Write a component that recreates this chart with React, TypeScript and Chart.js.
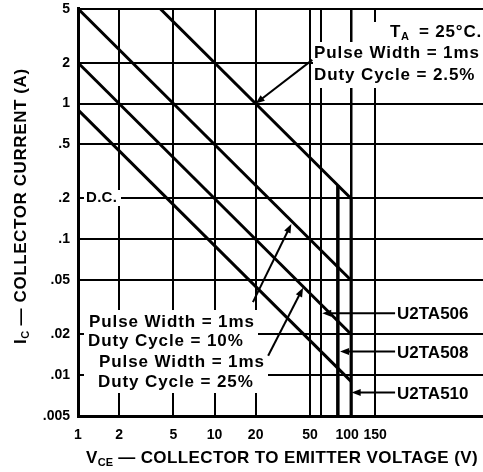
import React, { useEffect, useRef } from "react";
import { Chart, registerables } from "chart.js";

Chart.register(...registerables);

// ---- axis ticks ----
const xTickValues = [1, 2, 5, 10, 20, 50, 60, 80, 100, 150];
const xTickLabels = ["1", "2", "5", "10", "20", "50", "", "", "100  ", "150"];
const yTickValues = [0.005, 0.01, 0.02, 0.05, 0.1, 0.2, 0.5, 1, 2, 5];
const yTickLabels = [".005", ".01", ".02", ".05", ".1", ".2", ".5", "1", "2", "5"];

// ---- safe operating area lines (V, A) ----
const duty2_5V = [4, 100];
const duty2_5I = [5, 0.2];
const duty10V = [1, 100];
const duty10I = [5, 0.05];
const duty25V = [1, 100];
const duty25I = [2, 0.02];
const dcV = [1, 100];
const dcI = [0.9, 0.009];

// ---- device voltage limits ----
const limit80V = [80, 80];
const limit80I = [0.25, 0.005];
const limit100V = [100, 100];
const limit100I = [0.2, 0.005];

// ---- annotation arrows (tail -> tip, in V / A) ----
const arrowTailV = [52, 19.1, 24.7, 210, 210, 210];
const arrowTailI = [2.1, 0.0345, 0.0139, 0.0286, 0.0149, 0.00744];
const arrowTipV = [20, 36.5, 44.5, 61.5, 83, 101];
const arrowTipI = [1.0, 0.13, 0.044, 0.0286, 0.0149, 0.00744];

const FONT = '"Liberation Sans", Arial, Helvetica, sans-serif';

export default function App() {
  const ref = useRef<HTMLCanvasElement>(null);

  useEffect(() => {
    document.body.style.margin = "0";
    const canvas = ref.current!;

    const pts = (V: number[], I: number[]) => V.map((v, i) => ({ x: v, y: I[i] }));

    const text = (
      ctx: CanvasRenderingContext2D,
      s: string,
      x: number,
      y: number,
      size: number,
      spacing = 0,
      align: CanvasTextAlign = "left"
    ) => {
      ctx.font = `bold ${size}px ${FONT}`;
      (ctx as any).letterSpacing = `${spacing}px`;
      ctx.textAlign = align;
      ctx.textBaseline = "middle";
      ctx.fillText(s, x, y);
      const w = ctx.measureText(s).width;
      return w;
    };

    // white masks behind labels (pixel rectangles: x1, y1, x2, y2)
    const masks = [
      [368, 22, 483, 42],
      [313, 42, 483, 88],
      [84, 190, 121, 206],
      [84, 310, 258, 350],
      [84, 350, 268, 393],
    ];

    const annot = {
      id: "annot",
      beforeDatasetsDraw(chart: any) {
        const ctx = chart.ctx as CanvasRenderingContext2D;
        ctx.save();
        ctx.fillStyle = "#fff";
        for (const m of masks) ctx.fillRect(m[0], m[1], m[2] - m[0], m[3] - m[1]);
        ctx.restore();
      },
      afterDatasetsDraw(chart: any) {
        const ctx = chart.ctx as CanvasRenderingContext2D;
        const xs = chart.scales.x;
        const ys = chart.scales.y;
        ctx.save();
        ctx.fillStyle = "#000";
        ctx.strokeStyle = "#000";

        // arrows
        for (let i = 0; i < arrowTailV.length; i++) {
          const x1 = xs.getPixelForValue(arrowTailV[i]);
          const y1 = ys.getPixelForValue(arrowTailI[i]);
          const x2 = xs.getPixelForValue(arrowTipV[i]);
          const y2 = ys.getPixelForValue(arrowTipI[i]);
          const a = Math.atan2(y2 - y1, x2 - x1);
          const L = 9;
          const H = 3.5;
          ctx.lineWidth = 2;
          ctx.beginPath();
          ctx.moveTo(x1, y1);
          ctx.lineTo(x2 - Math.cos(a) * L * 0.6, y2 - Math.sin(a) * L * 0.6);
          ctx.stroke();
          ctx.beginPath();
          ctx.moveTo(x2, y2);
          ctx.lineTo(x2 - Math.cos(a) * L - Math.sin(a) * H, y2 - Math.sin(a) * L + Math.cos(a) * H);
          ctx.lineTo(x2 - Math.cos(a) * L + Math.sin(a) * H, y2 - Math.sin(a) * L - Math.cos(a) * H);
          ctx.closePath();
          ctx.fill();
        }

        // top-right note
        const w = text(ctx, "T", 390, 32, 17, 0.5);
        text(ctx, "A", 390 + w, 37, 11, 0);
        text(ctx, "= 25°C.", 482, 32, 17, 0.8, "right");
        text(ctx, "Pulse Width = 1ms", 314, 53, 17, 0.9);
        text(ctx, "Duty Cycle = 2.5%", 314, 75, 17, 0.9);

        // D.C.
        text(ctx, "D.C.", 86, 198, 15, 0.3);

        // bottom-left notes
        text(ctx, "Pulse Width = 1ms", 89, 322, 17, 0.9);
        text(ctx, "Duty Cycle = 10%", 88, 341, 17, 0.9);
        text(ctx, "Pulse Width = 1ms", 99, 362, 17, 0.9);
        text(ctx, "Duty Cycle = 25%", 98, 382, 17, 0.9);

        // device labels
        text(ctx, "U2TA506", 397, 314, 17, 0);
        text(ctx, "U2TA508", 397, 353, 17, 0);
        text(ctx, "U2TA510", 397, 394, 17, 0);

        // x-axis title
        let x = 86;
        x += text(ctx, "V", x, 458, 17, 0.4);
        x += text(ctx, "CE", x, 463, 11, 0);
        text(ctx, " — COLLECTOR TO EMITTER VOLTAGE (V)", x, 458, 17, 0.4);

        // y-axis title (rotated)
        ctx.translate(21, 344);
        ctx.rotate(-Math.PI / 2);
        let yx = 0;
        yx += text(ctx, "I", yx, 0, 17, 0.6);
        yx += text(ctx, "C", yx, 5, 11, 0);
        text(ctx, " — COLLECTOR CURRENT (A)", yx, 0, 17, 0.6);

        ctx.restore();
      },
    };

    const line = (V: number[], I: number[], width: number) => ({
      data: pts(V, I),
      showLine: true,
      borderColor: "#000",
      backgroundColor: "#000",
      borderWidth: width,
      pointRadius: 0,
      fill: false,
    });

    const chart = new Chart(canvas, {
      type: "scatter",
      data: {
        datasets: [
          line(duty2_5V, duty2_5I, 3),
          line(duty10V, duty10I, 3),
          line(duty25V, duty25I, 3),
          line(dcV, dcI, 3),
          line(limit80V, limit80I, 3.5),
          line(limit100V, limit100I, 3),
        ],
      },
      options: {
        animation: false,
        responsive: false,
        devicePixelRatio: 1,
        layout: { padding: { top: 0, left: 0, right: 0, bottom: 0 } },
        plugins: { legend: { display: false }, tooltip: { enabled: false } },
        scales: {
          x: {
            type: "logarithmic",
            min: 1,
            max: 925,
            afterBuildTicks: (s: any) => {
              s.ticks = xTickValues.map((v) => ({ value: v }));
            },
            afterFit: (s: any) => {
              s.height = 56;
            },
            ticks: {
              autoSkip: false,
              maxRotation: 0,
              padding: 11,
              color: "#000",
              font: { family: FONT, size: 14, weight: "bold" },
              callback: (_v: any, i: number) => xTickLabels[i],
            },
            grid: {
              drawTicks: false,
              color: (c: any) => (c.tick && c.tick.value === 80 ? "rgba(0,0,0,0)" : "#000"),
              lineWidth: (c: any) => (c.tick && c.tick.value === 80 ? 0 : c.tick && c.tick.value === 100 ? 2.5 : 2),
            },
            border: { color: "#000", width: 3 },
          },
          y: {
            type: "logarithmic",
            min: 0.005,
            max: 5,
            afterBuildTicks: (s: any) => {
              s.ticks = yTickValues.map((v) => ({ value: v }));
            },
            afterFit: (s: any) => {
              s.width = 78;
            },
            ticks: {
              autoSkip: false,
              padding: 8,
              color: "#000",
              font: { family: FONT, size: 14, weight: "bold", lineHeight: 0.1 },
              callback: (_v: any, i: number) => yTickLabels[i],
            },
            grid: { drawTicks: false, color: "#000", lineWidth: 2 },
            border: { color: "#000", width: 3 },
          },
        },
      },
      plugins: [annot],
    } as any);

    return () => chart.destroy();
  }, []);

  return (
    <div style={{ position: "absolute", left: 0, top: 0, width: 483, height: 472, background: "#fff" }}>
      <canvas ref={ref} width={483} height={472} style={{ width: 483, height: 472, display: "block" }} />
    </div>
  );
}
